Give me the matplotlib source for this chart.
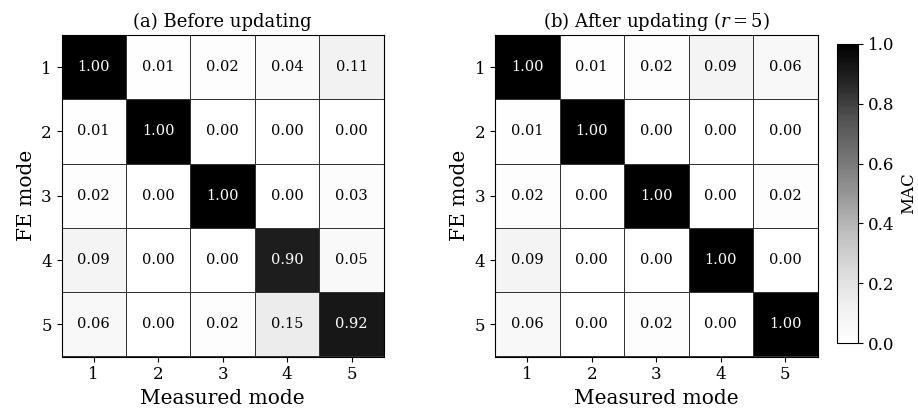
import numpy as np
import matplotlib
matplotlib.use("Agg")
import matplotlib.pyplot as plt

plt.rcParams['font.family'] = 'DejaVu Serif'
plt.rcParams['mathtext.fontset'] = 'dejavuserif'

modes = [1, 2, 3, 4, 5]

mac_before = [
    [1.00, 0.01, 0.02, 0.04, 0.11],
    [0.01, 1.00, 0.00, 0.00, 0.00],
    [0.02, 0.00, 1.00, 0.00, 0.03],
    [0.09, 0.00, 0.00, 0.90, 0.05],
    [0.06, 0.00, 0.02, 0.15, 0.92],
]

mac_after = [
    [1.00, 0.01, 0.02, 0.09, 0.06],
    [0.01, 1.00, 0.00, 0.00, 0.00],
    [0.02, 0.00, 1.00, 0.00, 0.02],
    [0.09, 0.00, 0.00, 1.00, 0.00],
    [0.06, 0.00, 0.02, 0.00, 1.00],
]

titles = ['(a) Before updating', '(b) After updating ($r = 5$)']

fig = plt.figure(figsize=(9.18, 4.12), dpi=100)
ax1 = fig.add_axes([61.5 / 918, 1 - 356.5 / 412, 322.5 / 918, 321.5 / 412])
ax2 = fig.add_axes([495 / 918, 1 - 356.5 / 412, 322.5 / 918, 321.5 / 412])
cax = fig.add_axes([837 / 918, 1 - 343 / 412, 21 / 918, 299 / 412])


def draw_mac(ax, data, title):
    data = np.array(data)
    n = len(modes)
    edges = np.arange(n + 1) + 0.5
    mesh = ax.pcolormesh(edges, edges, data, cmap='Greys', vmin=0, vmax=1,
                         edgecolors='#333333', linewidth=0.5)
    for i in range(n):
        for j in range(n):
            v = data[i, j]
            ax.text(modes[j], modes[i], f'{v:.2f}', ha='center', va='center',
                    fontsize=10.5, color='white' if v > 0.5 else 'black')
    ax.set_xlim(0.5, n + 0.5)
    ax.set_ylim(n + 0.5, 0.5)
    ax.set_xticks(modes)
    ax.set_yticks(modes)
    ax.tick_params(labelsize=12)
    for s in ax.spines.values():
        s.set_linewidth(0.8)
    ax.set_xlabel('Measured mode', fontsize=14.5)
    ax.set_ylabel('FE mode', fontsize=14.5)
    ax.set_title(title, fontsize=13)
    return mesh


draw_mac(ax1, mac_before, titles[0])
m = draw_mac(ax2, mac_after, titles[1])

cb = fig.colorbar(m, cax=cax)
cb.set_label('MAC', fontsize=12)
cb.ax.tick_params(labelsize=12)
cb.outline.set_linewidth(0.8)

fig.savefig('out.png', dpi=100)
